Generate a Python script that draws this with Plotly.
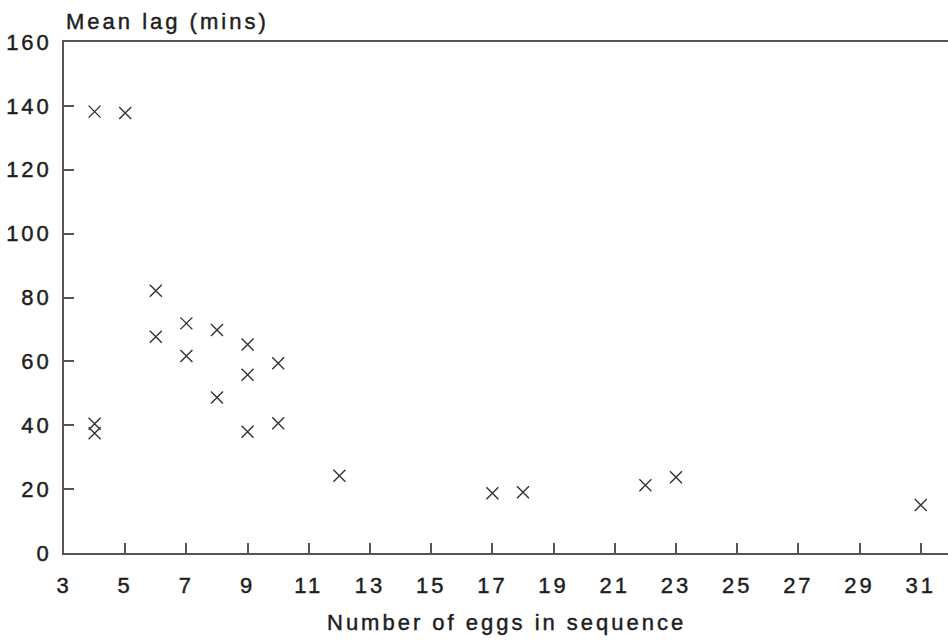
import plotly.graph_objects as go

eggs = [4, 5, 4, 4, 6, 6, 7, 7, 8, 8, 9, 9, 9, 10, 10, 12, 17, 18, 22, 23, 31]
mean_lag = [138.2, 137.8, 40.5, 37.5, 82.1, 67.7, 71.9, 61.7, 69.8, 48.7,
            65.3, 55.8, 38.0, 59.4, 40.6, 24.2, 18.7, 19.0, 21.2, 23.7, 15.0]

x_ticks = list(range(3, 32, 2))
y_ticks = list(range(0, 161, 20))

FONT = "Liberation Sans, Arial, sans-serif"
FS = 22
TXT = "#1e1e1e"
AX = "#555555"

fig = go.Figure()
fig.add_trace(go.Scatter(
    x=eggs, y=mean_lag, mode="markers",
    marker=dict(symbol="x-thin", size=12, color="#333333",
                line=dict(width=1.4, color="#333333")),
    showlegend=False, hoverinfo="x+y",
))

fig.update_layout(
    width=948, height=643,
    margin=dict(l=64, r=0, t=42, b=90),
    paper_bgcolor="white", plot_bgcolor="white",
    font=dict(family=FONT, size=FS, color=TXT),
    xaxis=dict(range=[3, 31.89], tickvals=x_ticks, ticktext=[str(v) for v in x_ticks],
               showgrid=False, zeroline=False, showline=True, linecolor=AX, linewidth=1.5,
               mirror=True, ticks="inside", ticklen=10, tickcolor=AX, tickwidth=1.5,
               automargin=False, ticklabelstandoff=12,
               tickfont=dict(family=FONT, size=FS, color=TXT)),
    yaxis=dict(range=[0, 160], tickvals=y_ticks, ticktext=[str(v) for v in y_ticks],
               showgrid=False, zeroline=False, showline=True, linecolor=AX, linewidth=1.5,
               ticks="inside", ticklen=10, tickcolor=AX, tickwidth=1.5,
               automargin=False, ticklabelstandoff=6,
               tickfont=dict(family=FONT, size=FS, color=TXT)),
    annotations=[
        dict(text="Mean lag (mins)", xref="paper", yref="paper", x=0, y=1,
             xanchor="left", yanchor="middle", yshift=21, align="left", showarrow=False,
             font=dict(family=FONT, size=FS, color=TXT)),
        dict(text="Number of eggs in sequence", xref="paper", yref="paper", x=0.5, y=0,
             xanchor="center", yanchor="middle", yshift=-69, showarrow=False,
             font=dict(family=FONT, size=FS, color=TXT)),
    ],
)

post = """
document.body.style.margin = '0';
var gd = document.getElementById('{plot_id}');
function spaceText(){
  gd.querySelectorAll('text').forEach(function(t){
    t.style.letterSpacing = '3px';
    t.style.stroke = '#1e1e1e';
    t.style.strokeWidth = '0.45px';
  });
}
spaceText();
gd.on && gd.on('plotly_afterplot', spaceText);
"""

fig.write_html("out.html", post_script=post, config={"displayModeBar": False})
